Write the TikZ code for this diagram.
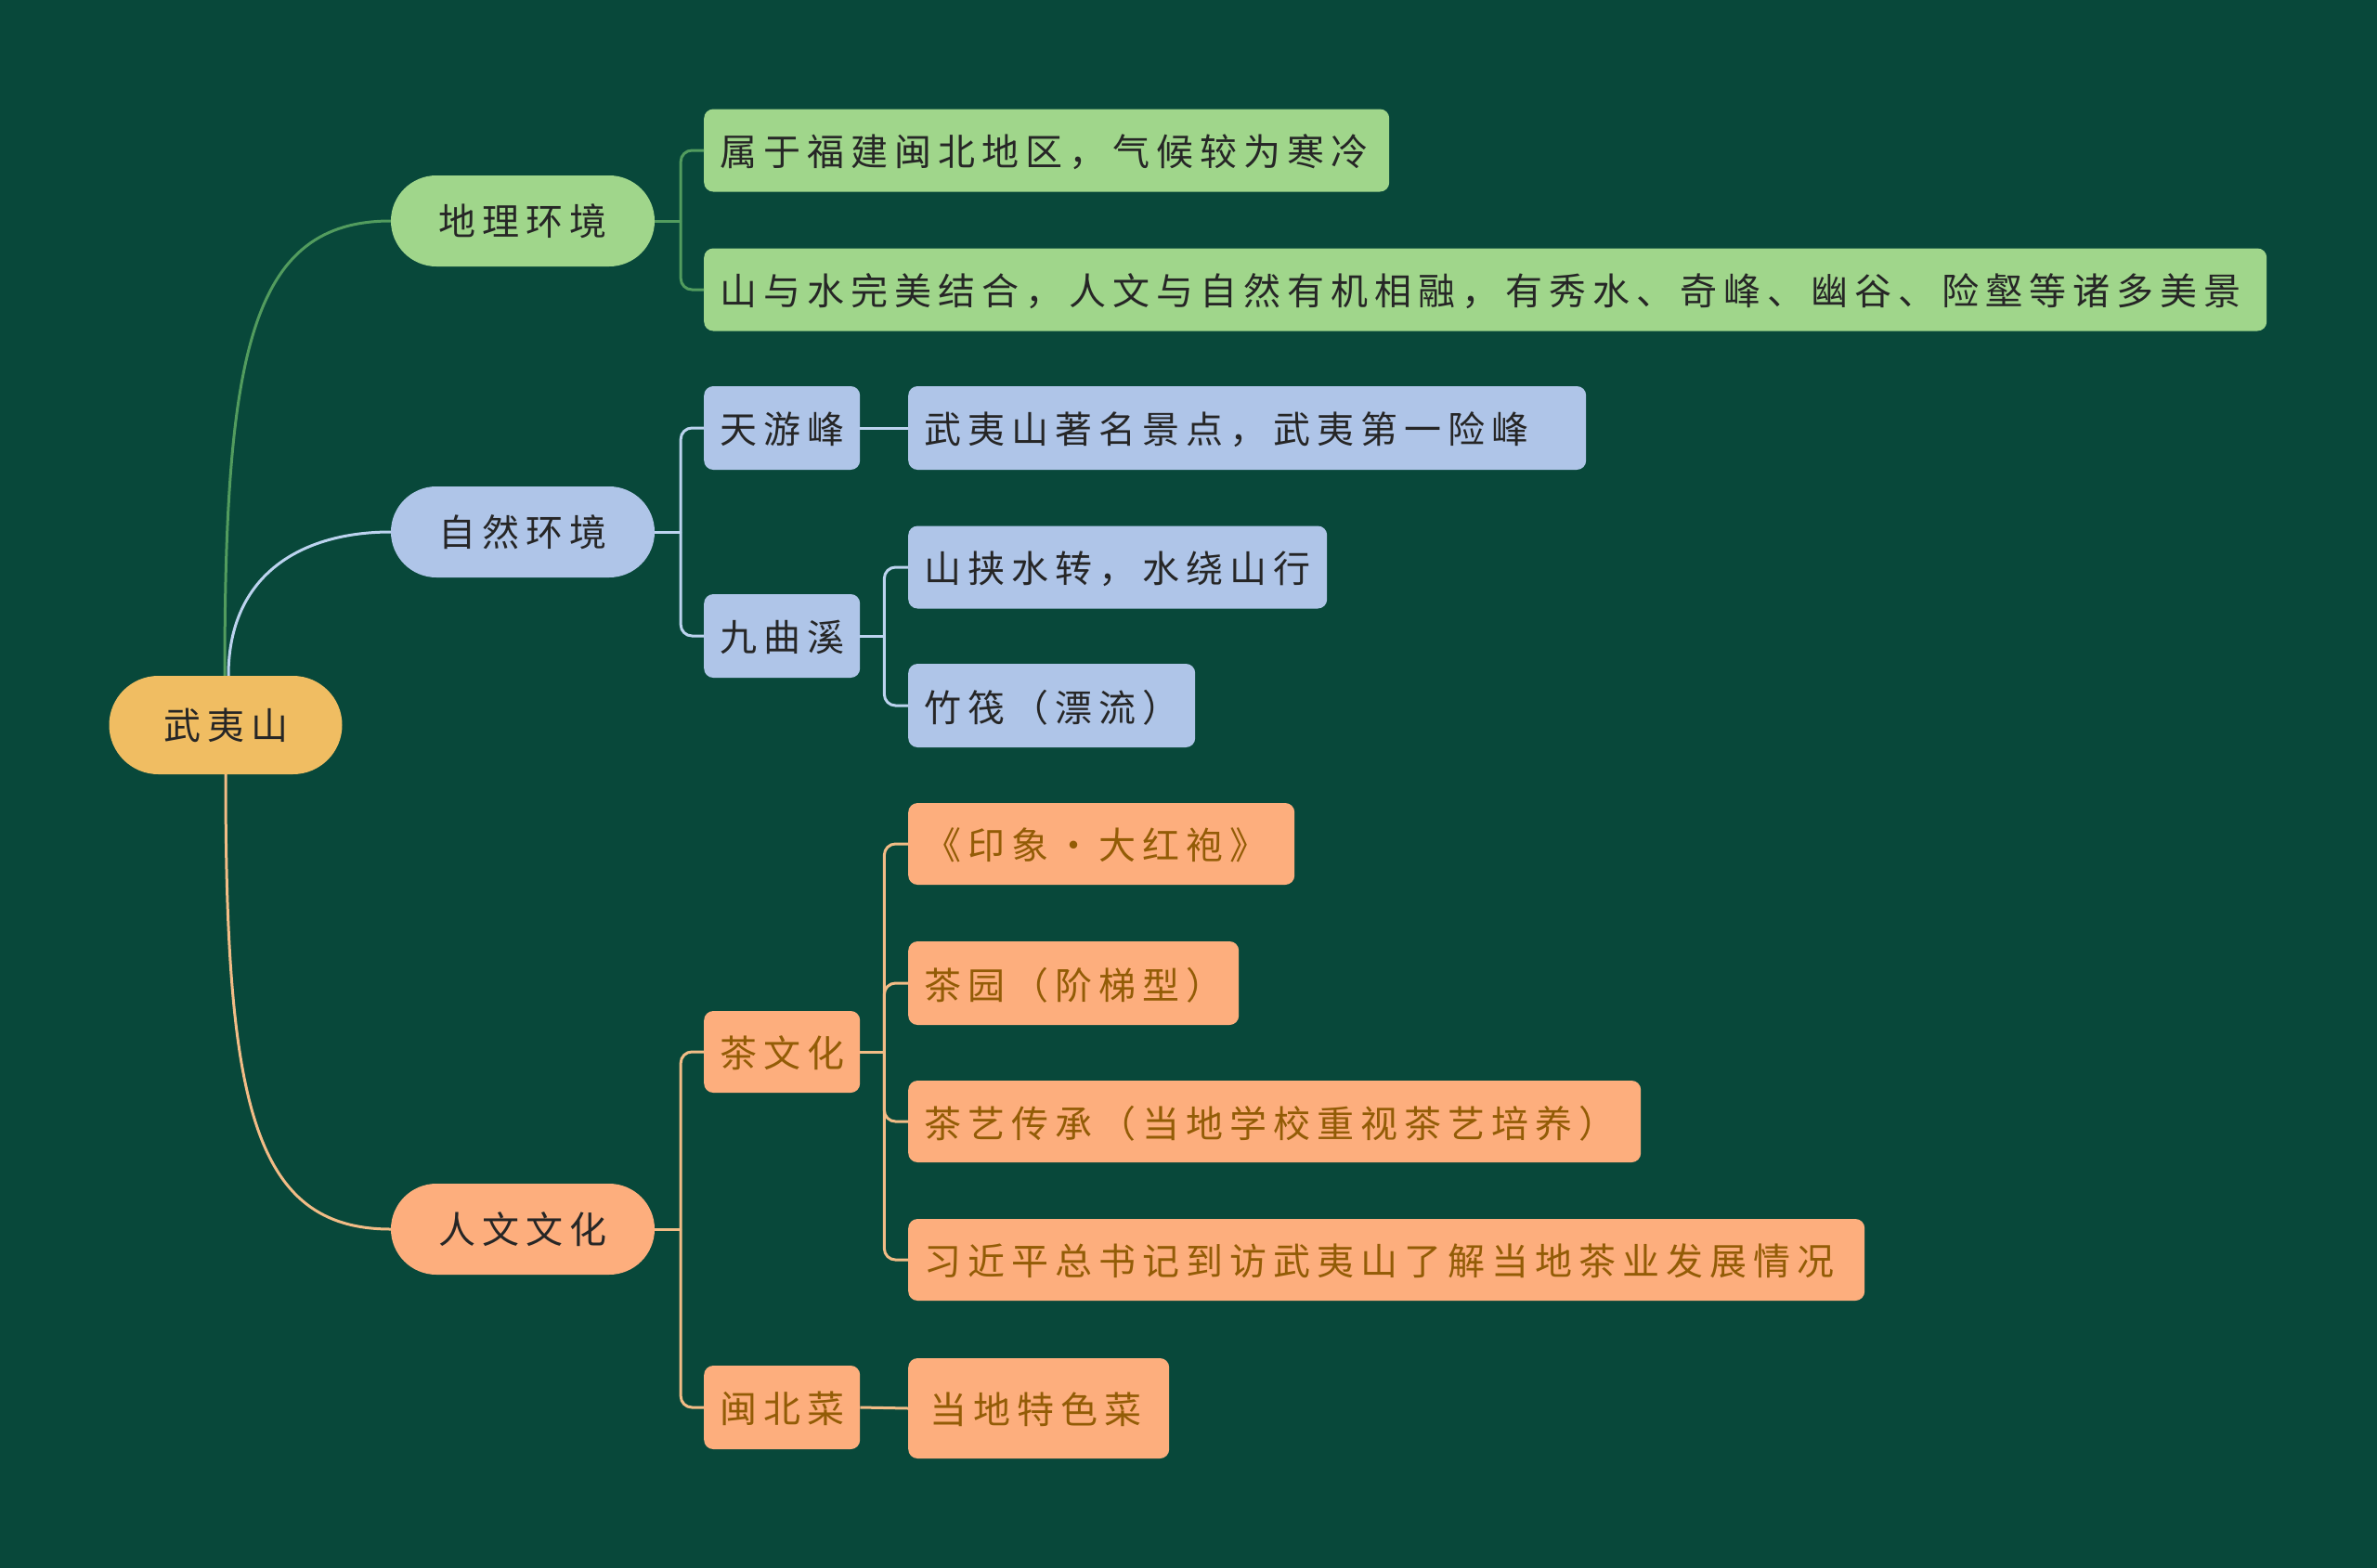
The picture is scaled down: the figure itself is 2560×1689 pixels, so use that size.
\documentclass[tikz,border=0pt]{standalone}
\usepackage{fontspec}
\newfontfamily\cjk[LetterSpace=17.5]{Noto Sans CJK SC}
\usetikzlibrary{calc}
\definecolor{bg}{HTML}{08483A}
\definecolor{rootfill}{HTML}{F0BD62}
\definecolor{gfill}{HTML}{A0D68B}
\definecolor{bfill}{HTML}{AFC5E8}
\definecolor{ofill}{HTML}{FDAE7D}
\definecolor{gline}{HTML}{529C5E}
\definecolor{bline}{HTML}{BCD3EF}
\definecolor{oline}{HTML}{F2BC86}
\definecolor{darktxt}{HTML}{262626}
\definecolor{browntxt}{HTML}{935C06}
\begin{document}
\begin{tikzpicture}[x=1pt,y=-1pt,
  base/.style={font=\cjk\fontsize{40}{48}\selectfont, inner sep=0pt, text=darktxt},
  rootbox/.style={base, fill=rootfill, minimum width=251pt, minimum height=106pt, rounded corners=53pt},
  pill/.style={base, minimum width=284pt, minimum height=98pt, rounded corners=49pt},
  leaf/.style={base, anchor=west, rounded corners=10pt, minimum height=89pt, text depth=0pt},
  gleaf/.style={leaf, fill=gfill},
  bleaf/.style={leaf, fill=bfill},
  oleaf/.style={leaf, fill=ofill, text=browntxt},
  conn/.style={line width=3pt},
  elb/.style={line width=3pt, rounded corners=12pt}
]
\useasboundingbox (0,0) rectangle (2560,1689);
\fill[bg] (0,0) rectangle (2560,1689);

% root and level 1
\node[rootbox] (root) at (243,781) {武夷山};
\node[pill, fill=gfill] (geo) at (563,238) {地理环境};
\node[pill, fill=bfill] (nat) at (563,573) {自然环境};
\node[pill, fill=ofill] (cul) at (563,1324) {人文文化};

% green leaves
\node[gleaf, minimum width=738pt, text width=703pt, align=left] (g1) at (758,162) {属于福建闽北地区，气候较为寒冷};
\node[gleaf, minimum width=1683pt, text width=1648pt, align=left] (g2) at (758,312) {山与水完美结合，人文与自然有机相融，有秀水、奇峰、幽谷、险壑等诸多美景};

% blue
\node[bleaf, minimum width=168pt, text width=134pt, align=left, minimum height=90pt] (ty) at (758,461) {天游峰};
\node[bleaf, minimum width=168pt, text width=134pt, align=left, minimum height=90pt] (jq) at (758,685) {九曲溪};
\node[bleaf, minimum width=730pt, text width=695pt, align=left, minimum height=90pt] (b1) at (978,461) {武夷山著名景点，武夷第一险峰};
\node[bleaf, minimum width=451pt, text width=416pt, align=left] (b2) at (978,611) {山挟水转，水绕山行};
\node[bleaf, minimum width=309pt, text width=274pt, align=left, minimum height=90pt] (b3) at (978,760) {竹筏（漂流）};

% orange
\node[oleaf, minimum width=168pt, text width=134pt, align=left, minimum height=88pt] (tea) at (758,1133) {茶文化};
\node[oleaf, minimum width=168pt, text width=134pt, align=left, minimum height=90pt] (mb) at (758,1516) {闽北菜};
\node[oleaf, minimum width=416pt, text width=381pt, align=left, minimum height=88pt] (o1) at (978,909) {《印象·大红袍》};
\node[oleaf, minimum width=356pt, text width=321pt, align=left, minimum height=90pt] (o2) at (978,1059) {茶园（阶梯型）};
\node[oleaf, minimum width=789pt, text width=754pt, align=left, minimum height=88pt] (o3) at (978,1208) {茶艺传承（当地学校重视茶艺培养）};
\node[oleaf, minimum width=1030pt, text width=995pt, align=left, minimum height=88pt] (o4) at (978,1357) {习近平总书记到访武夷山了解当地茶业发展情况};
\node[oleaf, minimum width=281pt, text width=235pt, align=left, minimum height=108pt] (o5) at (978,1517) {当地特色菜};

% root to level 1
\draw[conn, gline] ($(root.north)+(-1,0)$) .. controls +(0,-350) and +(-150,0) .. (geo.west);
\draw[conn, bline] ($(root.north)+(3,0)$) .. controls +(0,-110) and +(-95,0) .. (nat.west);
\draw[conn, oline] (root.south) .. controls +(0,350) and +(-150,0) .. (cul.west);

% green elbows
\coordinate (gj) at ($(geo.east)+(28,0)$);
\draw[conn, gline] (geo.east) -- (gj);
\draw[elb, gline] (gj) |- (g1.west);
\draw[elb, gline] (gj) |- (g2.west);

% blue elbows
\coordinate (nj) at ($(nat.east)+(28,0)$);
\draw[conn, bline] (nat.east) -- (nj);
\draw[elb, bline] (nj) |- (ty.west);
\draw[elb, bline] (nj) |- (jq.west);
\draw[conn, bline] (ty.east) -- (b1.west);
\coordinate (jj) at ($(jq.east)+(26,0)$);
\draw[conn, bline] (jq.east) -- (jj);
\draw[elb, bline] (jj) |- (b2.west);
\draw[elb, bline] (jj) |- (b3.west);

% orange elbows
\coordinate (cj) at ($(cul.east)+(28,0)$);
\draw[conn, oline] (cul.east) -- (cj);
\draw[elb, oline] (cj) |- (tea.west);
\draw[elb, oline] (cj) |- (mb.west);
\coordinate (tj) at ($(tea.east)+(26,0)$);
\draw[conn, oline] (tea.east) -- (tj);
\draw[elb, oline] (tj) |- (o1.west);
\draw[elb, oline] (tj) |- (o2.west);
\draw[elb, oline] (tj) |- (o3.west);
\draw[elb, oline] (tj) |- (o4.west);
\draw[conn, oline] (mb.east) -- (o5.west);
\end{tikzpicture}
\end{document}
